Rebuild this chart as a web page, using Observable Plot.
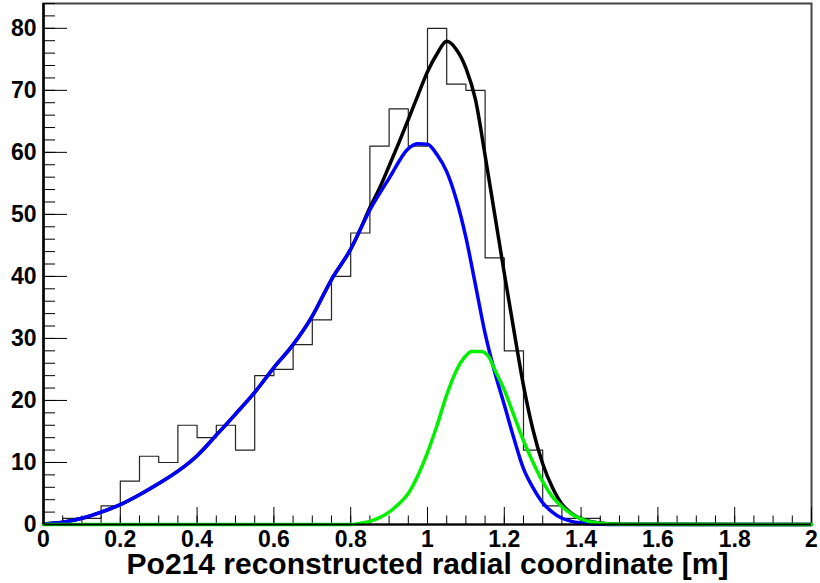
<!DOCTYPE html>
<html><head><meta charset="utf-8">
<script src="https://cdn.jsdelivr.net/npm/d3@7"></script>
<script src="https://cdn.jsdelivr.net/npm/@observablehq/plot@0.6"></script>
<style>
html,body{margin:0;padding:0;background:#fff;}
#chart svg{display:block;}
</style></head><body><div id="chart"></div>
<script>
// Histogram: left bin edges (width 0.05) and counts
const binLeft = [0,0.05,0.1,0.15,0.2,0.25,0.3,0.35,0.4,0.45,0.5,0.55,0.6,0.65,0.7,0.75,0.8,0.85,0.9,0.95,
  1.0,1.05,1.1,1.15,1.2,1.25,1.3,1.35,1.4,1.45,1.5,1.55,1.6,1.65,1.7,1.75,1.8,1.85,1.9,1.95,2.0];
const counts = [0,1,1,3,7,11,10,16,14,16,12,24,25,29,33,40,47,61,67,61,
  80,71,70,43,28,12,3,1,1,0,0,0,0,0,0,0,0,0,0,0,0];

// Blue fit component
const blueX = [0,0.05,0.1,0.15,0.2,0.25,0.3,0.35,0.4,0.45,0.5,0.55,0.6,0.65,0.7,0.75,0.8,0.85,0.9,0.95,0.975,
  1.0,1.025,1.05,1.075,1.1,1.125,1.15,1.175,1.2,1.225,1.25,1.275,1.3,1.325,1.35,1.375,1.4,1.45,1.5,2.0];
const blueY = [0.1,0.35,1.0,2.0,3.2,4.8,6.6,8.6,11.1,14.4,17.8,21.3,25.3,29.0,33.6,39.5,44.4,50.7,55.8,60.6,61.4,
  61.3,59.6,56.9,52.4,46.3,38.6,30.8,24.6,19.3,13.9,9.0,5.9,3.5,2.0,1.0,0.5,0.25,0.05,0,0];

// Green fit component
const greenX = [0,0.8,0.825,0.85,0.875,0.9,0.925,0.95,0.975,1.0,1.025,1.05,1.075,1.1,1.115,1.14,1.16,1.175,
  1.2,1.225,1.25,1.275,1.3,1.325,1.35,1.375,1.4,1.425,1.45,1.5,2.0];
const greenY = [0,0,0.2,0.5,1.1,2.0,3.3,5.0,7.9,11.6,16.0,20.9,24.8,27.2,27.9,27.9,27.0,25.0,
  21.7,17.6,13.5,10.0,6.9,4.5,2.9,1.7,0.9,0.4,0.2,0.05,0];

// Black total fit
const blackX = [0,0.05,0.1,0.15,0.2,0.25,0.3,0.35,0.4,0.45,0.5,0.55,0.6,0.65,0.7,0.75,0.8,0.825,0.85,0.875,0.9,
  0.925,0.95,0.975,1.0,1.025,1.05,1.075,1.1,1.125,1.15,1.175,1.2,1.225,1.25,1.275,1.3,1.325,1.35,1.375,1.4,1.45,1.5,2.0];
const blackY = [0.1,0.35,1.0,2.0,3.2,4.8,6.6,8.6,11.1,14.4,17.8,21.3,25.3,29.0,33.6,39.5,44.4,47.6,51.1,54.2,57.8,
  61.5,65.3,69.2,73.0,75.9,77.9,76.6,73.6,68.5,59.5,50.0,40.5,31.3,22.4,15.2,9.8,6.0,3.3,1.8,0.9,0.25,0.05,0];

const xTicks = [0,0.2,0.4,0.6,0.8,1,1.2,1.4,1.6,1.8,2];
const xTickLabels = ["0","0.2","0.4","0.6","0.8","1","1.2","1.4","1.6","1.8","2"];
const yTicks = [0,10,20,30,40,50,60,70,80];
const yTickLabels = ["0","10","20","30","40","50","60","70","80"];
const xMinor = d3.range(0, 2.0001, 0.05).map(v => +v.toFixed(2));
const yMinor = d3.range(0, 84.001, 2);
const xTitle = "Po214 reconstructed radial coordinate [m]";

const hist = binLeft.map((x, i) => ({x, y: counts[i]}));
const blue = blueX.map((x, i) => ({x, y: blueY[i]}));
const green = greenX.map((x, i) => ({x, y: greenY[i]}));
const black = blackX.map((x, i) => ({x, y: blackY[i]}));

const W = 820, H = 583, mL = 43, mR = 9, mT = 3, mB = 59;
const frameW = W - mL - mR, frameH = H - mT - mB;
const font = "'Liberation Sans', Arial, Helvetica, sans-serif";

const chart = Plot.plot({
  width: W, height: H,
  marginLeft: mL, marginRight: mR, marginTop: mT, marginBottom: mB,
  x: {domain: [0, 2]},
  y: {domain: [0, 84]},
  style: {fontFamily: font, background: "#fff", color: "#000"},
  marks: [
    Plot.frame({stroke: "#444", strokeWidth: 2}),
    // inward ticks (ROOT style)
    Plot.tickX(xMinor, {x: d => d, insetTop: frameH - 8.5, stroke: "#000", strokeWidth: 1}),
    Plot.tickX(xTicks, {x: d => d, insetTop: frameH - 17, stroke: "#000", strokeWidth: 1}),
    Plot.tickY(yMinor, {y: d => d, insetRight: frameW - 12, stroke: "#000", strokeWidth: 1}),
    Plot.tickY(yTicks, {y: d => d, insetRight: frameW - 24, stroke: "#000", strokeWidth: 1}),
    Plot.line(hist, {x: "x", y: "y", curve: "step-after", stroke: "#222", strokeWidth: 1.2}),
    Plot.line(black, {x: "x", y: "y", curve: "monotone-x", stroke: "#000", strokeWidth: 3.5}),
    Plot.line(blue, {x: "x", y: "y", curve: "monotone-x", stroke: "#0000ff", strokeWidth: 3.5}),
    Plot.line(green, {x: "x", y: "y", curve: "monotone-x", stroke: "#00f000", strokeWidth: 3.5}),
    Plot.axisX(xTicks, {tickSize: 0, tickPadding: 6, label: null,
      tickFormat: (d) => xTickLabels[xTicks.indexOf(d)], fontSize: 23, fontWeight: "bold", fill: "#000"}),
    Plot.axisY(yTicks, {tickSize: 0, tickPadding: 7, label: null,
      tickFormat: (d) => yTickLabels[yTicks.indexOf(d)], fontSize: 23, fontWeight: "bold", fill: "#000"}),
    Plot.ruleX([0], {stroke: "#000", strokeWidth: 2.5}),
    Plot.ruleY([0], {stroke: "#000", strokeWidth: 2}),
    Plot.text([xTitle], {frameAnchor: "bottom", dy: 49, text: d => d, fontSize: 30, fontWeight: "bold", fill: "#000"})
  ]
});
document.getElementById("chart").appendChild(chart);
</script>
</body></html>
